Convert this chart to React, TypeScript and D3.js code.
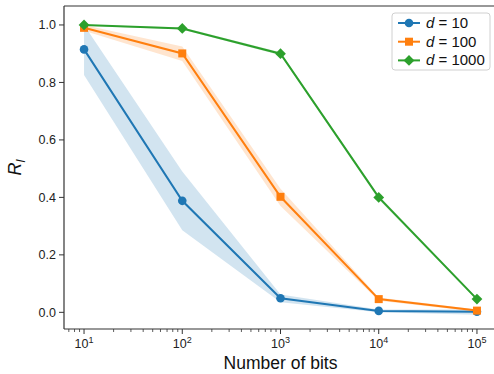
import React, { useEffect, useRef } from 'react';
import * as d3 from 'd3';

// number of bits (x) for every series
const bits = [1e1, 1e2, 1e3, 1e4, 1e5];

// mean R_l and the shaded band (low / high)
const meanD10 = [0.915, 0.388, 0.049, 0.005, 0.002];
const lowD10 = [0.826, 0.286, 0.035, 0.0, -0.008];
const highD10 = [1.0, 0.49, 0.062, 0.01, 0.01];

const meanD100 = [0.99, 0.901, 0.402, 0.046, 0.006];
const lowD100 = [0.98, 0.875, 0.37, 0.04, 0.002];
const highD100 = [1.0, 0.925, 0.43, 0.052, 0.01];

const meanD1000 = [1.0, 0.988, 0.9, 0.4, 0.046];
const lowD1000 = [0.997, 0.984, 0.895, 0.393, 0.042];
const highD1000 = [1.0, 0.992, 0.905, 0.407, 0.05];

const seriesNames = ['10', '100', '1000'];
const yTicks = [0.0, 0.2, 0.4, 0.6, 0.8, 1.0];
const xTicks = [1e1, 1e2, 1e3, 1e4, 1e5];

const colors = ['#1f77b4', '#ff7f0e', '#2ca02c'];
const markers = ['circle', 'square', 'diamond'];

function App() {
  const svgRef = useRef<SVGSVGElement>(null);

  useEffect(() => {
    const width = 494;
    const height = 374;
    const margin = { top: 6, right: -3, bottom: 45, left: 64 };
    const innerWidth = width - margin.left - margin.right;
    const innerHeight = height - margin.top - margin.bottom;
    const font = '"Liberation Sans", Arial, sans-serif';

    const svg = d3.select(svgRef.current)
      .attr('width', width)
      .attr('height', height);
    svg.selectAll('*').remove();

    const xScale = d3.scaleLog()
      .domain([10 ** 0.796, 10 ** 5.204])
      .range([0, innerWidth]);
    const yScale = d3.scaleLinear()
      .domain([-0.058, 1.066])
      .range([innerHeight, 0]);

    const g = svg.append('g')
      .attr('transform', `translate(${margin.left},${margin.top})`);

    const series = [
      { mean: meanD10, low: lowD10, high: highD10 },
      { mean: meanD100, low: lowD100, high: highD100 },
      { mean: meanD1000, low: lowD1000, high: highD1000 },
    ];

    const area = d3.area<number>()
      .x((_, i) => xScale(bits[i]));
    const line = d3.line<number>()
      .x((_, i) => xScale(bits[i]))
      .y(d => yScale(d));

    // matplotlib-ish markers: 'o', 's' and 'D' (a square turned 45 degrees)
    const symbolFor = (m: string) => {
      if (m === 'square') return d3.symbol(d3.symbolSquare, 64)();
      if (m === 'diamond') return d3.symbol(d3.symbolSquare, 58)();
      return d3.symbol(d3.symbolCircle, 58)();
    };
    const rot = (m: string) => (m === 'diamond' ? ' rotate(45)' : '');

    // bands first, then lines and markers
    series.forEach((s, k) => {
      g.append('path')
        .datum(s.mean)
        .attr('d', area.y0((_, i) => yScale(s.low[i])).y1((_, i) => yScale(s.high[i])))
        .attr('fill', colors[k])
        .attr('fill-opacity', 0.2);
    });

    series.forEach((s, k) => {
      g.append('path')
        .datum(s.mean)
        .attr('d', line)
        .attr('fill', 'none')
        .attr('stroke', colors[k])
        .attr('stroke-width', 2);
      g.selectAll(`.mk${k}`)
        .data(s.mean)
        .enter()
        .append('path')
        .attr('class', `mk${k}`)
        .attr('d', symbolFor(markers[k]))
        .attr('transform', (d, i) => `translate(${xScale(bits[i])},${yScale(d)})${rot(markers[k])}`)
        .attr('fill', colors[k]);
    });

    // spines
    g.append('line').attr('x1', 0).attr('x2', 0).attr('y1', 0).attr('y2', innerHeight)
      .attr('stroke', '#333').attr('stroke-width', 1.2);
    g.append('line').attr('x1', 0).attr('x2', innerWidth).attr('y1', innerHeight).attr('y2', innerHeight)
      .attr('stroke', '#333').attr('stroke-width', 1.2);
    g.append('line').attr('x1', 0).attr('x2', innerWidth).attr('y1', 0).attr('y2', 0)
      .attr('stroke', '#333').attr('stroke-width', 1.2);

    // y ticks
    yTicks.forEach(t => {
      g.append('line')
        .attr('x1', -5).attr('x2', 0)
        .attr('y1', yScale(t)).attr('y2', yScale(t))
        .attr('stroke', '#333').attr('stroke-width', 1);
      g.append('text')
        .attr('x', -8)
        .attr('y', yScale(t) + 4.5)
        .attr('text-anchor', 'end')
        .attr('font-family', font)
        .attr('font-size', '12.5px')
        .attr('fill', '#222')
        .text(t.toFixed(1));
    });

    // x ticks, major and minor
    const [x0, x1] = xScale.domain();
    for (let e = 0; e <= 5; e++) {
      for (let m = 2; m <= 9; m++) {
        const v = m * 10 ** e;
        if (v < x0 || v > x1) continue;
        g.append('line')
          .attr('x1', xScale(v)).attr('x2', xScale(v))
          .attr('y1', innerHeight).attr('y2', innerHeight + 3)
          .attr('stroke', '#333').attr('stroke-width', 0.8);
      }
    }
    xTicks.forEach(t => {
      g.append('line')
        .attr('x1', xScale(t)).attr('x2', xScale(t))
        .attr('y1', innerHeight).attr('y2', innerHeight + 5)
        .attr('stroke', '#333').attr('stroke-width', 1);
      const txt = g.append('text')
        .attr('x', xScale(t))
        .attr('y', innerHeight + 19)
        .attr('text-anchor', 'middle')
        .attr('font-family', font)
        .attr('font-size', '12.5px')
        .attr('fill', '#222');
      txt.append('tspan').text('10');
      txt.append('tspan')
        .attr('dy', -5)
        .attr('font-size', '9px')
        .text(String(Math.round(Math.log10(t))));
    });

    // axis labels
    g.append('text')
      .attr('x', xScale(Math.sqrt(x0 * x1)))
      .attr('y', innerHeight + 40)
      .attr('text-anchor', 'middle')
      .attr('font-family', font)
      .attr('font-size', '17.5px')
      .attr('fill', '#111')
      .text('Number of bits');

    const yl = svg.append('text')
      .attr('transform', `translate(21,${margin.top + innerHeight / 2}) rotate(-90)`)
      .attr('text-anchor', 'middle')
      .attr('font-family', font)
      .attr('font-size', '18px')
      .attr('font-style', 'italic')
      .attr('fill', '#111');
    yl.append('tspan').text('R');
    yl.append('tspan').attr('dy', 4).attr('font-size', '13px').text('l');

    // legend
    const lg = svg.append('g').attr('transform', 'translate(392,13)');
    lg.append('rect')
      .attr('width', 98).attr('height', 57)
      .attr('rx', 3)
      .attr('fill', 'white').attr('fill-opacity', 0.85)
      .attr('stroke', '#d0d0d0');
    seriesNames.forEach((name, k) => {
      const y = 10 + k * 18.7;
      lg.append('line')
        .attr('x1', 6).attr('x2', 28)
        .attr('y1', y).attr('y2', y)
        .attr('stroke', colors[k]).attr('stroke-width', 2);
      lg.append('path')
        .attr('d', symbolFor(markers[k]))
        .attr('transform', `translate(17,${y})${rot(markers[k])}`)
        .attr('fill', colors[k]);
      const t = lg.append('text')
        .attr('x', 34)
        .attr('y', y + 5)
        .attr('font-family', font)
        .attr('font-size', '15px')
        .attr('fill', '#111');
      t.append('tspan').attr('font-style', 'italic').text('d');
      t.append('tspan').text(` = ${name}`);
    });
  }, []);

  return <svg ref={svgRef} style={{ position: 'absolute', left: 0, top: 0 }}></svg>;
}

export default App;
